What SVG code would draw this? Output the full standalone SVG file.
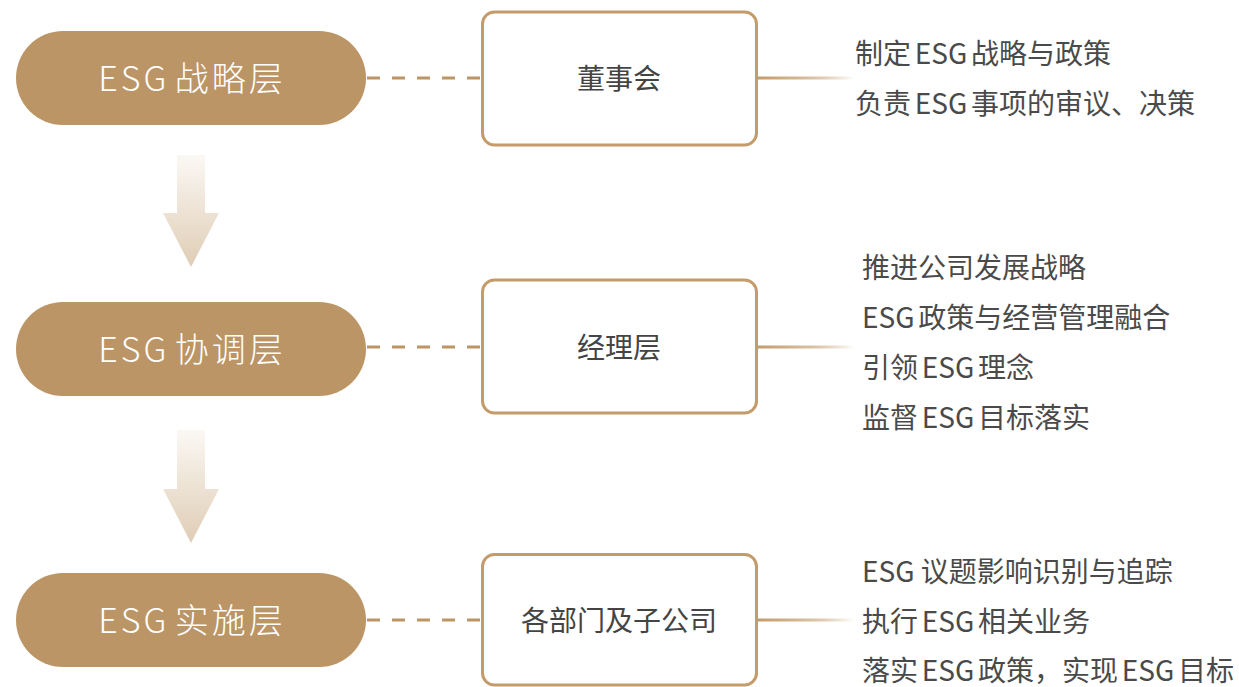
<svg xmlns="http://www.w3.org/2000/svg" width="1239" height="687" viewBox="0 0 1239 687">
  <defs>
    <linearGradient id="arrowGrad" x1="0" y1="0" x2="0" y2="1">
      <stop offset="0" stop-color="#FBF8F4"/>
      <stop offset="1" stop-color="#DFCDB5"/>
    </linearGradient>
    <linearGradient id="lineGrad" x1="0" y1="0" x2="1" y2="0">
      <stop offset="0" stop-color="#C49A68"/>
      <stop offset="0.5" stop-color="#D6BC9A"/>
      <stop offset="1" stop-color="#C49A68" stop-opacity="0"/>
    </linearGradient>
    <style>
      .pill { fill: #BB9565; }
      .pilltext { fill: #FFFFFF; font-family: "Noto Sans CJK SC", "Noto Sans", sans-serif; font-size: 34px; font-weight: 300; text-anchor: middle; letter-spacing: 3px; word-spacing: -5px; }
      .box { fill: #FFFFFF; stroke: #C49B6B; stroke-width: 3; }
      .boxtext { fill: #444444; font-family: "Noto Sans CJK SC", "Noto Sans", sans-serif; font-size: 28px; font-weight: 400; text-anchor: middle; }
      .desc { fill: #4A4A4A; font-family: "Noto Sans CJK SC", "Noto Sans", sans-serif; font-size: 28px; font-weight: 400; word-spacing: -2.5px; }
      .wide { word-spacing: 0px; }
      .dash { stroke: #BB9565; stroke-width: 3; stroke-dasharray: 13 12; fill: none; }
      .arrow { fill: url(#arrowGrad); }
    </style>
  </defs>
  <rect width="1239" height="687" fill="#FFFFFF"/>

  <g id="connectors">
    <line class="dash" x1="367" y1="78" x2="482" y2="78"/>
    <line class="dash" x1="367" y1="347" x2="482" y2="347"/>
    <line class="dash" x1="367" y1="620" x2="482" y2="620"/>
    <rect x="757" y="76.5" width="97" height="3" fill="url(#lineGrad)"/>
    <rect x="757" y="345.5" width="97" height="3" fill="url(#lineGrad)"/>
    <rect x="757" y="618.5" width="97" height="3" fill="url(#lineGrad)"/>
    <path class="arrow" d="M177,155 H205 V213 H219 L191,267 L163,213 H177 Z"/>
    <path class="arrow" d="M177,430 H205 V489 H219 L191,543 L163,489 H177 Z"/>
  </g>

  <g id="pill-strategy">
    <rect class="pill" x="16" y="31" width="350" height="94" rx="47" ry="47"/>
    <text class="pilltext" x="192" y="91">ESG 战略层</text>
  </g>
  <g id="pill-coordination">
    <rect class="pill" x="16" y="302" width="350" height="94" rx="47" ry="47"/>
    <text class="pilltext" x="192" y="362">ESG 协调层</text>
  </g>
  <g id="pill-implementation">
    <rect class="pill" x="16" y="573" width="350" height="94" rx="47" ry="47"/>
    <text class="pilltext" x="192" y="633">ESG 实施层</text>
  </g>

  <g id="box-board">
    <rect class="box" x="482.5" y="12" width="274" height="133" rx="12" ry="12"/>
    <text class="boxtext" x="619" y="89">董事会</text>
  </g>
  <g id="box-management">
    <rect class="box" x="482.5" y="280" width="274" height="133" rx="12" ry="12"/>
    <text class="boxtext" x="619" y="358">经理层</text>
  </g>
  <g id="box-departments">
    <rect class="box" x="482.5" y="554.5" width="274" height="130.5" rx="12" ry="12"/>
    <text class="boxtext" x="619" y="631">各部门及子公司</text>
  </g>

  <g id="desc-board">
    <text class="desc" x="855" y="64">制定 ESG 战略与政策</text>
    <text class="desc" x="855" y="114">负责 ESG 事项的审议、决策</text>
  </g>
  <g id="desc-management">
    <text class="desc" x="862" y="278">推进公司发展战略</text>
    <text class="desc" x="862" y="328">ESG 政策与经营管理融合</text>
    <text class="desc" x="862" y="378">引领 ESG 理念</text>
    <text class="desc" x="862" y="428">监督 ESG 目标落实</text>
  </g>
  <g id="desc-departments">
    <text class="desc wide" x="862" y="582">ESG 议题影响识别与追踪</text>
    <text class="desc" x="862" y="632">执行 ESG 相关业务</text>
    <text class="desc" x="862" y="681">落实 ESG 政策，实现 ESG 目标</text>
  </g>
</svg>
